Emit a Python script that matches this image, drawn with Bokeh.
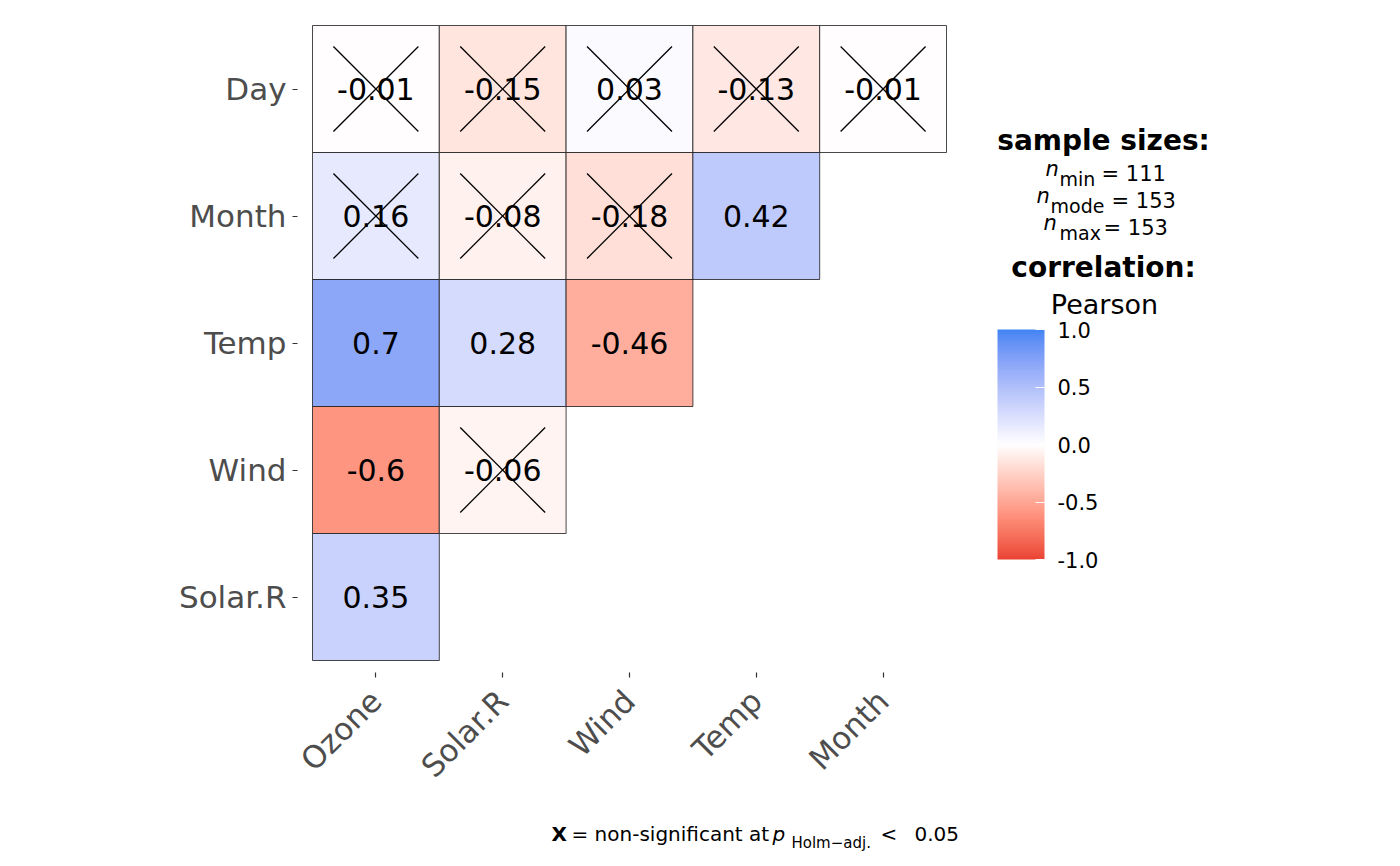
import math
from bokeh.plotting import figure
from bokeh.models import (Range1d, ColumnDataSource, ColorBar, LinearColorMapper,
                          FixedTicker, PrintfTickFormatter)
from bokeh.core.properties import value
from bokeh.embed import file_html
from bokeh.resources import INLINE

# ---------------- data ----------------
x_vars = ["Ozone", "Solar.R", "Wind", "Temp", "Month"]
y_vars = ["Solar.R", "Wind", "Temp", "Month", "Day"]   # bottom -> top

cell_x = ["Ozone", "Solar.R", "Wind", "Temp", "Month",
          "Ozone", "Solar.R", "Wind", "Temp",
          "Ozone", "Solar.R", "Wind",
          "Ozone", "Solar.R",
          "Ozone"]
cell_y = ["Day"] * 5 + ["Month"] * 4 + ["Temp"] * 3 + ["Wind"] * 2 + ["Solar.R"]
r_vals = [-0.01, -0.15, 0.03, -0.13, -0.01,
          0.16, -0.08, -0.18, 0.42,
          0.70, 0.28, -0.46,
          -0.60, -0.06,
          0.35]
r_labels = ["-0.01", "-0.15", "0.03", "-0.13", "-0.01",
            "0.16", "-0.08", "-0.18", "0.42",
            "0.7", "0.28", "-0.46",
            "-0.6", "-0.06",
            "0.35"]
nonsig = [1, 1, 1, 1, 1,
          1, 1, 1, 0,
          0, 0, 0,
          0, 1,
          0]
cbar_ticks = [-1.0, -0.5, 0.0, 0.5, 1.0]
n_names = ["min", "mode", "max"]
n_values = [111, 153, 153]

LOW, MID, HIGH = "#EA4335", "#FFFFFF", "#4285F4"

# ---------------- Lab interpolation (like scales::gradient_n_pal) ----------------
def _hex_to_rgb(h):
    h = h.lstrip("#")
    return [int(h[i:i + 2], 16) / 255 for i in (0, 2, 4)]

def _lin(c):
    return c / 12.92 if c <= 0.04045 else ((c + 0.055) / 1.055) ** 2.4

def _delin(c):
    c = 12.92 * c if c <= 0.0031308 else 1.055 * c ** (1 / 2.4) - 0.055
    return min(1, max(0, c))

WX, WY, WZ = 0.95047, 1.0, 1.08883

def hex_to_lab(h):
    r, g, b = [_lin(c) for c in _hex_to_rgb(h)]
    X = 0.4124 * r + 0.3576 * g + 0.1805 * b
    Y = 0.2126 * r + 0.7152 * g + 0.0722 * b
    Z = 0.0193 * r + 0.1192 * g + 0.9505 * b
    def f(t):
        return t ** (1 / 3) if t > 216 / 24389 else (24389 / 27 * t + 16) / 116
    fx, fy, fz = f(X / WX), f(Y / WY), f(Z / WZ)
    return [116 * fy - 16, 500 * (fx - fy), 200 * (fy - fz)]

def lab_to_hex(lab):
    L, a, b = lab
    fy = (L + 16) / 116
    fx = fy + a / 500
    fz = fy - b / 200
    def finv(t):
        return t ** 3 if t ** 3 > 216 / 24389 else (116 * t - 16) / (24389 / 27)
    X, Y, Z = finv(fx) * WX, finv(fy) * WY, finv(fz) * WZ
    r = 3.2406 * X - 1.5372 * Y - 0.4986 * Z
    g = -0.9689 * X + 1.8758 * Y + 0.0415 * Z
    bb = 0.0557 * X - 0.2040 * Y + 1.0570 * Z
    return "#%02x%02x%02x" % tuple(int(round(_delin(c) * 255)) for c in (r, g, bb))

LAB_LOW, LAB_MID, LAB_HIGH = hex_to_lab(LOW), hex_to_lab(MID), hex_to_lab(HIGH)

def corr_color(v):
    v = max(-1, min(1, v))
    end = LAB_HIGH if v >= 0 else LAB_LOW
    t = abs(v)
    return lab_to_hex([LAB_MID[i] + (end[i] - LAB_MID[i]) * t for i in range(3)])

palette = [corr_color(-1 + 2 * i / 255) for i in range(256)]

xi = [x_vars.index(c) for c in cell_x]
yi = [y_vars.index(c) for c in cell_y]
src = ColumnDataSource(dict(x=xi, y=yi, r=r_vals, lab=r_labels,
                            color=[corr_color(v) for v in r_vals]))
half = 0.335
cx = [x for x, s in zip(xi, nonsig) if s]
cy = [y for y, s in zip(yi, nonsig) if s]
cross_src = ColumnDataSource(dict(
    x0a=[x - half for x in cx], y0a=[y - half for y in cy],
    x1a=[x + half for x in cx], y1a=[y + half for y in cy],
    y0b=[y + half for y in cy], y1b=[y - half for y in cy],
))

# ---------------- layout geometry (page px) ----------------
W, H = 1384, 858
FL, FT = 297, 13                   # frame left / top
AXY = 672                          # where the x axis sits
TX0, TX1, TY0, TY1 = 312, 946, 25, 660   # tile area
ux = (TX1 - TX0) / len(x_vars)
uy = (TY1 - TY0) / len(y_vars)

x_start = -0.5 - (TX0 - FL) / ux
x_end = 4.5 + (W - TX1) / ux
y_end = 4.5 + (TY0 - FT) / uy
y_start = -0.5 - (H - TY1) / uy
x_axis_at = -0.5 - (AXY - TY1) / uy

FONT = "DejaVu Sans"
p = figure(
    x_range=Range1d(x_start, x_end), y_range=Range1d(y_start, y_end),
    width=W, height=H, title=None,
    min_border_left=FL, min_border_right=0, min_border_top=FT, min_border_bottom=0,
    output_backend="svg", toolbar_location=None,
)
p.outline_line_color = None
p.grid.grid_line_color = None

p.rect(x="x", y="y", width=1, height=1, source=src, fill_color="color",
       line_color="#1a1a1a", line_width=0.8)
p.segment(x0="x0a", y0="y0a", x1="x1a", y1="y1a", source=cross_src,
          line_color="black", line_width=1.3)
p.segment(x0="x0a", y0="y0b", x1="x1a", y1="y1b", source=cross_src,
          line_color="black", line_width=1.3)
p.text(x="x", y="y", text="lab", source=src, text_align="center", text_baseline="middle",
       text_font=value(FONT), text_font_size="30px", text_color="black")

p.xaxis.ticker = FixedTicker(ticks=list(range(len(x_vars))))
p.xaxis.major_label_overrides = {i: n for i, n in enumerate(x_vars)}
p.xaxis.fixed_location = x_axis_at
p.yaxis.ticker = FixedTicker(ticks=list(range(len(y_vars))))
p.yaxis.major_label_overrides = {i: n for i, n in enumerate(y_vars)}
for ax in (p.xaxis, p.yaxis):
    ax.axis_line_color = None
    ax.major_tick_line_color = "#333333"
    ax.major_tick_line_width = 1.2
    ax.major_tick_out = 5
    ax.major_tick_in = 0
    ax.minor_tick_line_color = None
    ax.major_label_text_font = FONT
    ax.major_label_text_font_size = "31px"
    ax.major_label_text_color = "#4d4d4d"
p.yaxis.major_label_standoff = 6
p.xaxis.major_label_standoff = 18
p.xaxis.major_label_orientation = math.pi / 4

# ---------------- colour bar ----------------
mapper = LinearColorMapper(palette=palette, low=-1, high=1)
cb = ColorBar(color_mapper=mapper, location=(997 - FL, H - 559), width=47, height=230,
              padding=0, ticker=FixedTicker(ticks=cbar_ticks),
              formatter=PrintfTickFormatter(format="%.1f"),
              major_label_text_font=FONT, major_label_text_font_size="21px",
              major_label_text_color="black", label_standoff=13,
              major_tick_line_color="white", major_tick_in=9, major_tick_out=0,
              minor_tick_line_color=None, bar_line_color=None,
              background_fill_color=None, border_line_color=None)
p.add_layout(cb, "center")

# texts placed by their vertical middle (page px), converted to data space
def txt(px, py, text, size, style="normal", align="left"):
    xd = (px - TX0) / ux - 0.5
    yd = (TY1 - py) / uy - 0.5
    p.text(x=[xd], y=[yd], text=[text], text_font=value(FONT),
           text_font_size="%dpx" % size, text_font_style=style,
           text_align=align, text_baseline="middle", text_color="black")

txt(1103, 140, "sample sizes:", 28, "bold", "center")
n_x = [(1045, 1059, 1101), (1036, 1050, 1111), (1043, 1059, 1103)]
n_mid = [173, 200, 227]
for (xn, xs, xe), mid, nm, nv in zip(n_x, n_mid, n_names, n_values):
    txt(xn, mid - 5, "n", 21, "italic")
    txt(xs, mid + 5, nm, 19)
    txt(xe, mid, "= %d" % nv, 21)
txt(1103, 267, "correlation:", 28, "bold", "center")
txt(1104, 304, "Pearson", 27, "normal", "center")

txt(551, 833, "X", 20, "bold")
txt(571, 833, "= non-significant at", 20)
txt(772, 833, "p", 20, "italic")
txt(791, 842, "Holm\u2212adj.", 15)
txt(880, 833, "<", 20)
txt(914, 833, "0.05", 20)

open("out.html", "w").write(file_html(p, INLINE))
